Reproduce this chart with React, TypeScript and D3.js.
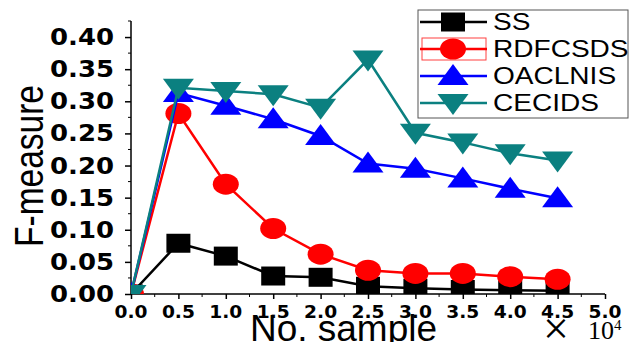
import React, { useEffect, useRef } from "react";
import * as d3 from "d3";

// sample counts (x 10^4)
const samples = [0, 0.5, 1.0, 1.5, 2.0, 2.5, 3.0, 3.5, 4.0, 4.5];
const ss = [0, 0.079, 0.059, 0.028, 0.026, 0.012, 0.009, 0.007, 0.006, 0.005];
const rdfcsds = [0, 0.281, 0.171, 0.102, 0.062, 0.037, 0.032, 0.032, 0.027, 0.023];
const oaclnis = [0, 0.313, 0.293, 0.272, 0.246, 0.203, 0.195, 0.18, 0.164, 0.149];
const cecids = [0, 0.321, 0.316, 0.311, 0.29, 0.365, 0.251, 0.236, 0.219, 0.208];

const seriesNames = ["SS", "RDFCSDS", "OACLNIS", "CECIDS"];
const seriesColors = ["#000000", "#ff0000", "#0000ff", "#0b8080"];
const seriesShapes = ["square", "circle", "up", "down"];
const xTicks = [0, 0.5, 1.0, 1.5, 2.0, 2.5, 3.0, 3.5, 4.0, 4.5, 5.0];
const yTicks = [0, 0.05, 0.1, 0.15, 0.2, 0.25, 0.3, 0.35, 0.4];

const markerPath = (shape: string) => {
  // markers are a bit wider than tall in the source image
  if (shape === "square") return "M-12,-9.5H12V9.5H-12Z";
  if (shape === "circle") return "M-13,0A13,10.5 0 1,0 13,0A13,10.5 0 1,0 -13,0Z";
  if (shape === "up") return "M0,-12L15.5,9L-15.5,9Z";
  return "M0,12L15.5,-9L-15.5,-9Z";
};

const App = () => {
  const ref = useRef<SVGSVGElement>(null);

  useEffect(() => {
    const svg = d3.select(ref.current);
    svg.selectAll("*").remove();

    const left = 131, right = 605, top = 21, bottom = 294;
    const x = d3.scaleLinear().domain([0, 5]).range([left, right]);
    const y = d3.scaleLinear().domain([0, 0.425]).range([bottom, top]);

    svg
      .append("defs")
      .append("clipPath")
      .attr("id", "plot")
      .append("rect")
      .attr("x", left)
      .attr("y", top)
      .attr("width", right - left)
      .attr("height", bottom - top);

    // axes
    const yAxis = svg
      .append("g")
      .attr("transform", `translate(${left},0)`)
      .call(
        d3.axisLeft(y).tickValues(yTicks).tickSize(6).tickFormat(() => "")
      );
    yAxis.select(".domain").attr("d", `M0,${top}V${bottom}`);
    yAxis
      .selectAll(".minor")
      .data(d3.range(0.025, 0.43, 0.05))
      .enter()
      .append("line")
      .attr("x1", -3)
      .attr("x2", 0)
      .attr("y1", (d) => y(d))
      .attr("y2", (d) => y(d))
      .attr("stroke", "#000");

    const xAxis = svg
      .append("g")
      .attr("transform", `translate(0,${bottom})`)
      .call(
        d3.axisBottom(x).tickValues(xTicks).tickSize(5).tickFormat(() => "")
      );
    xAxis.select(".domain").attr("d", `M${left},0H${right}`);
    xAxis
      .selectAll(".minor")
      .data(d3.range(0.25, 5, 0.5))
      .enter()
      .append("line")
      .attr("x1", (d) => x(d))
      .attr("x2", (d) => x(d))
      .attr("y1", 0)
      .attr("y2", 3)
      .attr("stroke", "#000");
    svg.selectAll(".domain, .tick line").attr("stroke-width", 1.5);

    // tick labels
    svg
      .selectAll(".ylab")
      .data(yTicks)
      .enter()
      .append("text")
      .attr("x", 114)
      .attr("y", (d) => y(d) + 8)
      .attr("text-anchor", "end")
      .attr("textLength", 64)
      .attr("lengthAdjust", "spacingAndGlyphs")
      .style("font", "bold 23px 'DejaVu Sans'")
      .text((d) => d.toFixed(2));

    svg
      .selectAll(".xlab")
      .data(xTicks)
      .enter()
      .append("text")
      .attr("x", (d) => x(d) - 16.5)
      .attr("y", 318)
      .attr("textLength", 33)
      .attr("lengthAdjust", "spacingAndGlyphs")
      .style("font", "bold 18px 'DejaVu Sans'")
      .text((d) => d.toFixed(1));

    // titles
    svg
      .append("text")
      .attr("transform", "translate(43,166) rotate(-90)")
      .attr("text-anchor", "middle")
      .attr("textLength", 162)
      .attr("lengthAdjust", "spacingAndGlyphs")
      .style("font", "40px 'Liberation Sans'")
      .text("F-measure");

    svg
      .append("text")
      .attr("x", 250)
      .attr("y", 341)
      .attr("textLength", 187)
      .attr("lengthAdjust", "spacingAndGlyphs")
      .style("font", "36px 'Liberation Sans'")
      .text("No. sample");

    svg
      .append("text")
      .attr("x", 556)
      .attr("y", 344)
      .attr("text-anchor", "middle")
      .style("font", "46px 'Liberation Serif'")
      .text("\u00d7");
    const pow = svg
      .append("text")
      .attr("x", 588)
      .attr("y", 339)
      .style("font", "26px 'Liberation Serif'");
    pow.append("tspan").text("10");
    pow
      .append("tspan")
      .attr("dy", -9)
      .style("font-size", "15px")
      .text("4");

    // series
    const all = [ss, rdfcsds, oaclnis, cecids];
    const line = d3
      .line<number>()
      .x((d, i) => x(samples[i]))
      .y((d) => y(d));

    const plot = svg.append("g").attr("clip-path", "url(#plot)");
    all.forEach((vals, k) => {
      const g = plot.append("g");
      g.append("path")
        .datum(vals)
        .attr("d", line)
        .attr("fill", "none")
        .attr("stroke", seriesColors[k])
        .attr("stroke-width", 2.5);
      g.selectAll("path.mk")
        .data(vals)
        .enter()
        .append("path")
        .attr("class", "mk")
        .attr("transform", (d, i) => `translate(${x(samples[i])},${y(d)})`)
        .attr("d", markerPath(seriesShapes[k]))
        .attr("fill", seriesColors[k]);
    });

    // legend
    const leg = svg.append("g");
    leg
      .append("rect")
      .attr("x", 418)
      .attr("y", 10)
      .attr("width", 210)
      .attr("height", 108)
      .attr("fill", "#fff")
      .attr("stroke", "#555")
      .attr("stroke-width", 1);
    const legY = d3.scalePoint().domain(seriesNames).range([22, 103]);
    seriesNames.forEach((name, k) => {
      const cy = legY(name) as number;
      if (k === 1) {
        leg
          .append("rect")
          .attr("x", 422)
          .attr("y", cy - 11)
          .attr("width", 64)
          .attr("height", 22)
          .attr("fill", "none")
          .attr("stroke", "#ff4040")
          .attr("stroke-width", 1);
      }
      leg
        .append("line")
        .attr("x1", 420)
        .attr("x2", 487)
        .attr("y1", cy)
        .attr("y2", cy)
        .attr("stroke", seriesColors[k])
        .attr("stroke-width", 2.5);
      leg
        .append("path")
        .attr("transform", `translate(453,${cy})`)
        .attr("d", markerPath(seriesShapes[k]))
        .attr("fill", seriesColors[k]);
      leg
        .append("text")
        .attr("transform", `translate(493,${cy + 8}) scale(1.22,1)`)
        .style("font", "23px 'Liberation Sans'")
        .text(name);
    });
  }, [ref]);

  return (
    <svg
      ref={ref}
      width={633}
      height={342}
      style={{ position: "absolute", left: 0, top: 0, background: "#fff" }}
    ></svg>
  );
};

export default App;
